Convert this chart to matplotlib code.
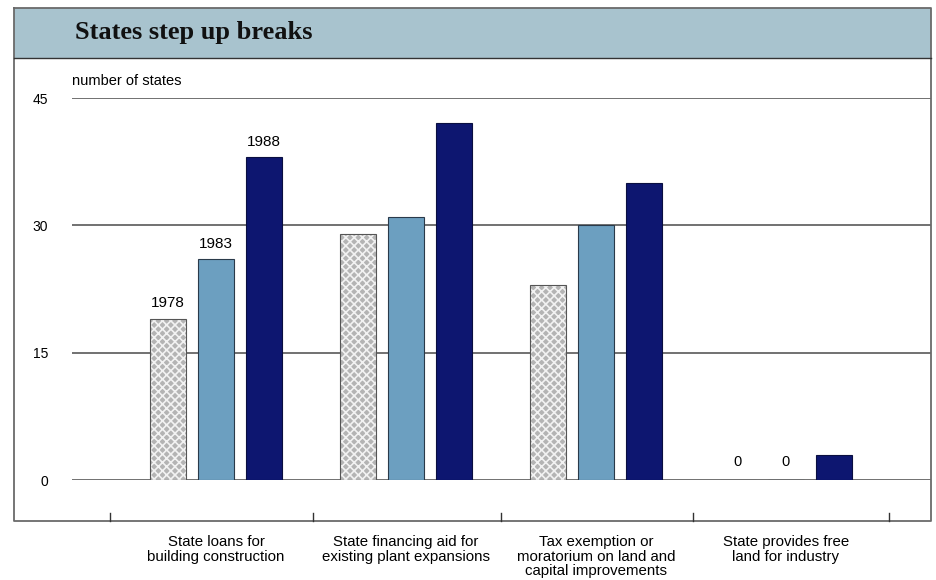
import matplotlib
matplotlib.use("Agg")
import matplotlib.pyplot as plt
from matplotlib.patches import Rectangle
from matplotlib.lines import Line2D
import matplotlib.transforms as mtransforms
import numpy as np

categories = ["State loans for\nbuilding construction",
              "State financing aid for\nexisting plant expansions",
              "Tax exemption or\nmoratorium on land and\ncapital improvements",
              "State provides free\nland for industry"]
years = ["1978", "1983", "1988"]
v1978 = [19, 29, 23, 0]
v1983 = [26, 31, 30, 0]
v1988 = [38, 42, 35, 3]
yticks = [0, 15, 30, 45]

plt.rcParams['font.family'] = ['Liberation Sans', 'DejaVu Sans']
plt.rcParams['hatch.linewidth'] = 1.2

W, H = 936, 580
fig = plt.figure(figsize=(W / 100, H / 100), dpi=100)

def fx(px):
    return px / W

def fy(py):
    return 1 - py / H

# frame and title band
frame_col = '#6a6a6a'
fig.patches.append(Rectangle((fx(14), fy(58)), fx(931) - fx(14), fy(8) - fy(58),
                             transform=fig.transFigure, facecolor='#a8c3ce',
                             edgecolor='none', zorder=0))
fig.lines.append(Line2D([fx(14), fx(931), fx(931), fx(14), fx(14)],
                        [fy(8), fy(8), fy(521), fy(521), fy(8)],
                        transform=fig.transFigure, color=frame_col, lw=1.3))
fig.lines.append(Line2D([fx(14), fx(931)], [fy(58), fy(58)],
                        transform=fig.transFigure, color='#333333', lw=1.0))
fig.text(fx(75), fy(33), "States step up breaks", family=['Liberation Serif'],
         fontweight='bold', fontsize=19, va='center', ha='left', color='#111111')

ax = fig.add_axes([fx(72), fy(480), fx(931) - fx(72), fy(98) - fy(480)])
x0_px, step_px = 216, 190
xmin = (72 - x0_px) / step_px
xmax = (931 - x0_px) / step_px
ax.set_xlim(xmin, xmax)
ax.set_ylim(0, 45)
for s in ax.spines.values():
    s.set_visible(False)
ax.set_yticks(yticks)
ax.set_yticklabels([str(t) for t in yticks], fontsize=10)
ax.tick_params(axis='y', length=0, pad=17)
ax.set_xticks([])
ax.yaxis.grid(True, color='#4a4a4a', lw=1.1)
ax.set_axisbelow(True)
ax.patch.set_alpha(0)

x = np.arange(len(categories))
off = 48 / step_px
bw = 36 / step_px

# 1978 textured bars
ax.bar(x - off, v1978, bw, color='#b4b4b4', edgecolor='#f2f2f2', hatch='xxxx', lw=0, zorder=2)
ax.bar(x - off, v1978, bw, fill=False, edgecolor='#555555', lw=0.8, zorder=3)
ax.bar(x, v1983, bw, color='#6c9fc0', edgecolor='#2a3a4a', lw=0.8, zorder=2)
ax.bar(x + off, v1988, bw, color='#0d1670', edgecolor='#0a0f40', lw=0.8, zorder=2)

# year labels on first group
for val, dx, lab in zip([v1978[0], v1983[0], v1988[0]], [-off, 0, off], years):
    ax.text(0 + dx, val + 1.0, lab, ha='center', va='bottom', fontsize=11)
# zero labels on last group
ax.text(3 - off, 1.3, str(v1978[3]), ha='center', va='bottom', fontsize=10.5)
ax.text(3, 1.3, str(v1983[3]), ha='center', va='bottom', fontsize=10.5)

ax.text(xmin, 46.2, "number of states", ha='left', va='bottom', fontsize=10.5)

# category labels
trans = mtransforms.blended_transform_factory(ax.transData, fig.transFigure)
for i, c in enumerate(categories):
    ax.text(i, fy(535), c, transform=trans, ha='center', va='top', fontsize=10.8,
            linespacing=1.05, clip_on=False)

# separator ticks on bottom frame
for sx in [-0.56, 0.51, 1.5, 2.51, 3.54]:
    fig.lines.append(Line2D([sx, sx], [fy(521), fy(513)], transform=trans,
                            color='#333333', lw=1.0))

fig.savefig("out.png", dpi=100)
